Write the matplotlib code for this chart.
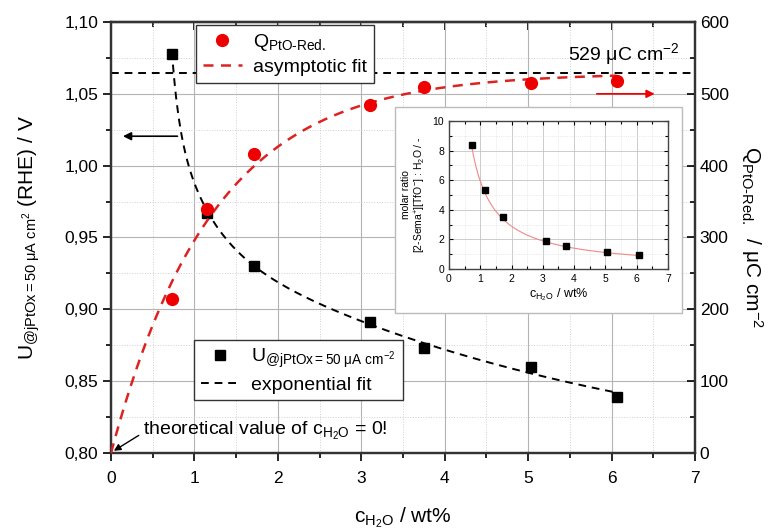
import numpy as np
import matplotlib
matplotlib.use("Agg")
import matplotlib.pyplot as plt
from matplotlib.ticker import MultipleLocator, FuncFormatter
from matplotlib.patches import Rectangle

plt.rcParams['font.family'] = ['Liberation Sans', 'DejaVu Sans']
plt.rcParams['mathtext.fontset'] = 'custom'
plt.rcParams['mathtext.rm'] = 'Liberation Sans'
plt.rcParams['mathtext.it'] = 'Liberation Sans:italic'
plt.rcParams['mathtext.bf'] = 'Liberation Sans:bold'

# water content of the electrolyte / wt%
c_water = [0.73, 1.15, 1.72, 3.11, 3.75, 5.04, 6.06]
# onset potential at 50 uA cm-2 / V vs RHE
u_onset = [1.0775, 0.967, 0.930, 0.891, 0.873, 0.860, 0.839]
# PtO reduction charge / uC cm-2
q_red = [215, 339, 416, 484, 509, 515, 518]
# molar ratio [2-Sema+][TfO-] : H2O
molar_ratio = [8.41, 5.32, 3.54, 1.90, 1.57, 1.14, 0.94]
q_limit = 529

# fit parameters
q_k = 0.82                                   # asymptotic fit: Q = q_limit*(1-exp(-k*c))
u0 = 0.7834                                  # multi-exponential decay fit of U
u_amp = [456.0, 0.508, 0.197]
u_tau = [0.079, 0.40, 5.0]
r_a, r_b = 5.94, -1.04                       # power fit of molar ratio

comma = FuncFormatter(lambda v, p: ('%.2f' % v).replace('.', ','))

fig = plt.figure(figsize=(7.8, 5.29), dpi=100)
ax1 = fig.add_axes([0.1423, 0.1437, 0.7487, 0.8147])
ax2 = ax1.twinx()

# grid
ax1.set_axisbelow(True)
ax1.grid(True, which='major', color='#b4b4b4', lw=0.8, ls='-')
ax1.grid(True, which='minor', color='#cfcfcf', lw=0.7, ls=':')

# U data + exponential fit (left axis)
xu = np.linspace(c_water[0], c_water[-1], 400)
yu = u0 + sum(a * np.exp(-xu / t) for a, t in zip(u_amp, u_tau))
ax1.plot(c_water, u_onset, 's', color='black', ms=7, ls='none',
         label=r'U$_{\mathregular{@jPtOx= 50\ μA\ cm^{-2}}}$', zorder=4)
ax1.plot(xu, yu, '--', color='black', lw=1.4, dashes=(4, 3), label='exponential fit', zorder=3)

# Q data + asymptotic fit (right axis)
xq = np.linspace(0, c_water[-1], 300)
yq = q_limit * (1 - np.exp(-q_k * xq))
ax2.axhline(q_limit, color='black', ls='--', lw=1.4, dashes=(4, 3), zorder=2)
ax2.plot(c_water, q_red, 'o', color='#ee0000', ms=8.5, ls='none',
         label=r'Q$_{\mathregular{PtO\text{-}Red.}}$', zorder=4)
ax2.plot(xq, yq, '--', color='#dd2222', lw=1.8, dashes=(4, 3), label='asymptotic fit', zorder=3)

ax1.set_xlim(0, 7)
ax1.set_ylim(0.80, 1.10)
ax2.set_ylim(0, 600)

ax1.xaxis.set_major_locator(MultipleLocator(1))
ax1.xaxis.set_minor_locator(MultipleLocator(0.5))
ax1.yaxis.set_major_locator(MultipleLocator(0.05))
ax1.yaxis.set_minor_locator(MultipleLocator(0.025))
ax1.yaxis.set_major_formatter(comma)
ax2.yaxis.set_major_locator(MultipleLocator(100))
ax2.yaxis.set_minor_locator(MultipleLocator(50))

# left/bottom ticks point outwards, top/right ticks inwards
ax1.tick_params(which='both', direction='out', top=False, right=False, labelsize=12.5, width=1.2)
ax1.tick_params(which='major', length=6)
ax1.tick_params(which='minor', length=3.5)
ax1.tick_params(axis='x', pad=7)
ax1.tick_params(axis='y', pad=3)
ax2.tick_params(which='both', direction='in', labelsize=12.5, width=1.2)
ax2.tick_params(which='major', length=6)
ax2.tick_params(which='minor', length=3.5)
top = ax1.secondary_xaxis('top')
top.xaxis.set_major_locator(MultipleLocator(1))
top.xaxis.set_minor_locator(MultipleLocator(0.5))
top.tick_params(which='both', direction='in', labeltop=False, width=1.2)
top.tick_params(which='major', length=6)
top.tick_params(which='minor', length=3.5)
for a in (ax1, ax2, top):
    for s in a.spines.values():
        s.set_linewidth(1.6)
        s.set_color('#333333')

ax1.set_xlabel(r'c$_{\mathregular{H_2O}}$ / wt%', fontsize=15, labelpad=14)
ax1.set_ylabel(r'U$_{\mathregular{@jPtOx= 50\ μA\ cm^{2}}}$ (RHE) / V', fontsize=15, labelpad=16)
ax2.set_ylabel(r'Q$_{\mathregular{PtO\text{-}Red.}}$  / μC cm$^{\mathregular{-2}}$',
               fontsize=15, rotation=-90, labelpad=26)

# arrows pointing to the respective axes
ax1.annotate('', xy=(0.11, 1.0205), xytext=(0.83, 1.0205),
             arrowprops=dict(arrowstyle='-|>', color='black', lw=1.2, mutation_scale=12))
ax2.annotate('', xy=(6.55, 500), xytext=(5.79, 500),
             arrowprops=dict(arrowstyle='-|>', color='#ee0000', lw=1.2, mutation_scale=12))
ax2.text(6.82, 537, r'529 μC cm$^{\mathregular{-2}}$', fontsize=14, ha='right', va='bottom')
ax1.annotate(r'theoretical value of c$_{\mathregular{H_2O}}$ = 0!', xy=(0.02, 0.801),
             xytext=(0.38, 0.8155), fontsize=14, va='center',
             arrowprops=dict(arrowstyle='-|>', color='black', lw=1.0, mutation_scale=10,
                             relpos=(0, 0.4), shrinkA=1, shrinkB=1))

leg_kw = dict(loc='upper left', borderaxespad=0, fontsize=14, frameon=True, fancybox=False,
              edgecolor='#333333', framealpha=1, numpoints=1, handlelength=2.0,
              handletextpad=0.6, borderpad=0.35, labelspacing=0.3)
leg1 = ax2.legend(bbox_to_anchor=(0.1455, 0.993), **leg_kw)
leg1.get_frame().set_linewidth(1.0)
leg2 = ax1.legend(bbox_to_anchor=(0.142, 0.262), **leg_kw)
leg2.get_frame().set_linewidth(1.0)
leg2.set_zorder(5)

# inset: molar ratio
box = Rectangle((0.5064, 0.4083), 0.368, 0.3894, transform=fig.transFigure,
                facecolor='white', edgecolor='#bbbbbb', lw=1.0, zorder=1)
fig.patches.append(box)
ax3 = fig.add_axes([0.5756, 0.4915, 0.2808, 0.2798])
ax3.set_zorder(3)
ax3.set_axisbelow(True)
ax3.grid(True, which='major', color='#c4c4c4', lw=0.6, ls='-')
ax3.grid(True, which='minor', color='#d8d8d8', lw=0.5, ls=':')
xr = np.linspace(c_water[0], c_water[-1], 200)
ax3.plot(xr, r_a * xr ** r_b, color='#ee8888', lw=0.8)
ax3.plot(c_water, molar_ratio, 's', color='black', ms=5, ls='none')
ax3.set_xlim(0, 7)
ax3.set_ylim(0, 10)
ax3.xaxis.set_major_locator(MultipleLocator(1))
ax3.xaxis.set_minor_locator(MultipleLocator(0.5))
ax3.yaxis.set_major_locator(MultipleLocator(2))
ax3.yaxis.set_minor_locator(MultipleLocator(1))
ax3.tick_params(which='both', direction='in', top=True, right=True, labelsize=7.5, width=0.8)
ax3.tick_params(which='major', length=3)
ax3.tick_params(which='minor', length=2)
for s in ax3.spines.values():
    s.set_linewidth(1.0)
    s.set_color('#444444')
ax3.set_xlabel(r'c$_{\mathregular{H_2O}}$ / wt%', fontsize=9, labelpad=2)
ax3.set_ylabel('molar ratio\n' + r'[2-Sema$^{\mathregular{+}}$][TfO$^{\mathregular{-}}$] : H$_{\mathregular{2}}$O / -',
               fontsize=7.5, labelpad=3)

fig.savefig('out.png', dpi=100)
